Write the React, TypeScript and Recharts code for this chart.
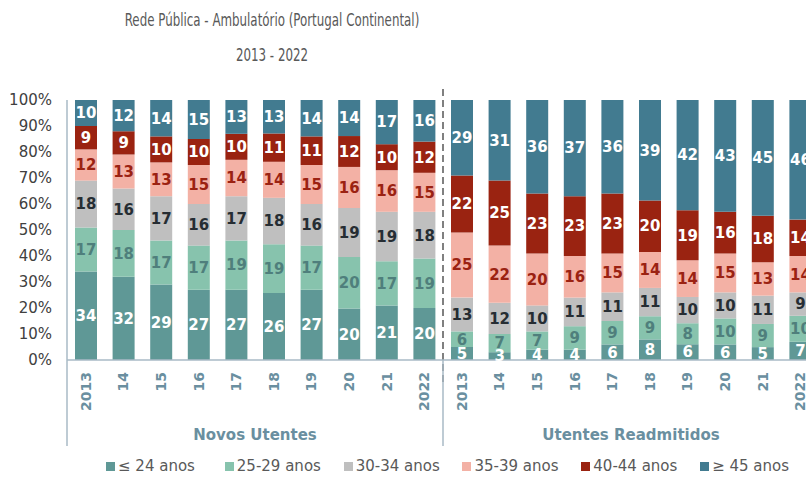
import React from "react";
import {
  BarChart,
  Bar,
  XAxis,
  YAxis,
  LabelList,
  Legend,
  ReferenceLine,
} from "recharts";

// categories
const YEARS = ["2013", "14", "15", "16", "17", "18", "19", "20", "21", "2022"];
const GROUPS = ["Novos Utentes", "Utentes Readmitidos"];
const Y_TICKS = [0, 0.1, 0.2, 0.3, 0.4, 0.5, 0.6, 0.7, 0.8, 0.9, 1];

// Novos Utentes (%)
const NOVOS_24 = [34, 32, 29, 27, 27, 26, 27, 20, 21, 20];
const NOVOS_29 = [17, 18, 17, 17, 19, 19, 17, 20, 17, 19];
const NOVOS_34 = [18, 16, 17, 16, 17, 18, 16, 19, 19, 18];
const NOVOS_39 = [12, 13, 13, 15, 14, 14, 15, 16, 16, 15];
const NOVOS_44 = [9, 9, 10, 10, 10, 11, 11, 12, 10, 12];
const NOVOS_45 = [10, 12, 14, 15, 13, 13, 14, 14, 17, 16];

// Utentes Readmitidos (%)
const READM_24 = [5, 3, 4, 4, 6, 8, 6, 6, 5, 7];
const READM_29 = [6, 7, 7, 9, 9, 9, 8, 10, 9, 10];
const READM_34 = [13, 12, 10, 11, 11, 11, 10, 10, 11, 9];
const READM_39 = [25, 22, 20, 16, 15, 14, 14, 15, 13, 14];
const READM_44 = [22, 25, 23, 23, 23, 20, 19, 16, 18, 14];
const READM_45 = [29, 31, 36, 37, 36, 39, 42, 43, 45, 46];

const SERIES = [
  { key: "a24", name: "≤ 24 anos", fill: "#5f9896", text: "#ffffff" },
  { key: "a29", name: "25-29 anos", fill: "#87c3ad", text: "#4f7f7c" },
  { key: "a34", name: "30-34 anos", fill: "#bfbfbf", text: "#262d33" },
  { key: "a39", name: "35-39 anos", fill: "#f3b1a5", text: "#9b2212" },
  { key: "a44", name: "40-44 anos", fill: "#9a2311", text: "#ffffff" },
  { key: "a45", name: "≥ 45 anos", fill: "#427b90", text: "#ffffff" },
];

const build = (g: string, cols: number[][]) =>
  YEARS.map((y, i) => ({
    key: g + y,
    year: y,
    a24: cols[0][i],
    a29: cols[1][i],
    a34: cols[2][i],
    a39: cols[3][i],
    a44: cols[4][i],
    a45: cols[5][i],
  }));

const data = [
  ...build("N", [NOVOS_24, NOVOS_29, NOVOS_34, NOVOS_39, NOVOS_44, NOVOS_45]),
  ...build("R", [READM_24, READM_29, READM_34, READM_39, READM_44, READM_45]),
];

const CHART_W = 830;
const CHART_H = 477;
const Y_W = 67;
const MARGIN = { top: 100, right: 11, left: 0, bottom: 0 };
const BAND = (CHART_W - MARGIN.left - MARGIN.right - Y_W) / data.length;

const FONT = "'DejaVu Sans', sans-serif";
const AXIS_BLUE = "#6a8fa0";
const LINE_COL = "#a8bac6";
const YR = 0;
const GRP = 1;

const YearTick = (props: any) => {
  const { x, y, index } = props;
  return (
    <text
      x={x}
      y={y}
      transform={`rotate(-90, ${x}, ${y})`}
      textAnchor="end"
      dy="0.36em"
      fill={AXIS_BLUE}
      fontWeight="bold"
      fontSize={14}
      fontFamily={FONT}
    >
      {data[index].year}
    </text>
  );
};

const GroupTick = (props: any) => {
  const { x, y, index } = props;
  const n = YEARS.length;
  const out: any[] = [];
  if (index % n === 0) {
    const lx = x - BAND / 2;
    out.push(
      <line key="l" x1={lx} x2={lx} y1={y - 50} y2={y + 36} stroke={LINE_COL} strokeWidth={1.5} />
    );
  }
  if (index % n === n / 2 - 1) {
    out.push(
      <text
        key="t"
        x={x + BAND / 2}
        y={y + 25}
        textAnchor="middle"
        dy="0.35em"
        fill={AXIS_BLUE}
        fontWeight="bold"
        fontSize={15}
        fontFamily={FONT}
      >
        {GROUPS[Math.floor(index / n)]}
      </text>
    );
  }
  return <g>{out}</g>;
};

const LegendBox = () => (
  <div
    style={{
      display: "flex",
      height: 22,
      alignItems: "center",
      paddingLeft: 106,
      fontFamily: FONT,
      fontSize: 15,
      color: "#595959",
    }}
  >
    {SERIES.map((s) => (
      <div key={s.key} style={{ width: 119.6, display: "flex", alignItems: "center" }}>
        <span style={{ width: 9, height: 9, background: s.fill, marginRight: 3 }} />
        <span>{s.name}</span>
      </div>
    ))}
  </div>
);

const titleLine = { transform: "scaleX(0.775)", transformOrigin: "center" };

export default function App() {
  return (
    <div
      style={{
        position: "absolute",
        left: 0,
        top: 0,
        width: 806,
        height: 477,
        overflow: "hidden",
        background: "#fff",
      }}
    >
      <div
        style={{
          position: "absolute",
          left: 72,
          width: 400,
          top: 3,
          textAlign: "center",
          fontFamily: "'DejaVu Sans Condensed', sans-serif",
          fontSize: 17,
          color: "#595959",
          lineHeight: "35px",
        }}
      >
        <div style={titleLine}>Rede Pública - Ambulatório (Portugal Continental)</div>
        <div style={titleLine}>2013 - 2022</div>
      </div>
      <BarChart
        width={CHART_W}
        height={CHART_H}
        data={data}
        stackOffset="expand"
        margin={MARGIN}
        barSize={22}
      >
        <XAxis
          xAxisId={YR}
          dataKey="key"
          interval={0}
          height={50}
          tickLine={false}
          tickSize={0}
          tickMargin={12}
          axisLine={{ stroke: LINE_COL, strokeWidth: 1.5 }}
          tick={<YearTick />}
        />
        <XAxis
          xAxisId={GRP}
          dataKey="key"
          interval={0}
          height={45}
          tickLine={false}
          tickSize={0}
          tickMargin={0}
          axisLine={false}
          tick={<GroupTick />}
        />
        <YAxis
          width={Y_W}
          domain={[0, 1]}
          ticks={Y_TICKS}
          tickFormatter={(v: number) => `${Math.round(v * 100)}%`}
          tickLine={false}
          tickMargin={9}
          axisLine={{ stroke: LINE_COL, strokeWidth: 1.5 }}
          tick={{ fontSize: 15, fill: "#404040", fontFamily: FONT }}
        />
        <Legend verticalAlign="bottom" content={() => <LegendBox />} />
        {SERIES.map((s) => (
          <Bar
            key={s.key}
            xAxisId={YR}
            dataKey={s.key}
            name={s.name}
            stackId="a"
            fill={s.fill}
            isAnimationActive={false}
          >
            <LabelList
              dataKey={s.key}
              position="center"
              fill={s.text}
              fontSize={15}
              fontWeight="bold"
              fontFamily={FONT}
            />
          </Bar>
        ))}
        <ReferenceLine
          xAxisId={YR}
          position="start"
          ifOverflow="visible"
          segment={[
            { x: "R2013", y: -0.085 },
            { x: "R2013", y: 1.046 },
          ]}
          stroke="#808080"
          strokeWidth={2}
          strokeDasharray="7 4"
        />
      </BarChart>
    </div>
  );
}
